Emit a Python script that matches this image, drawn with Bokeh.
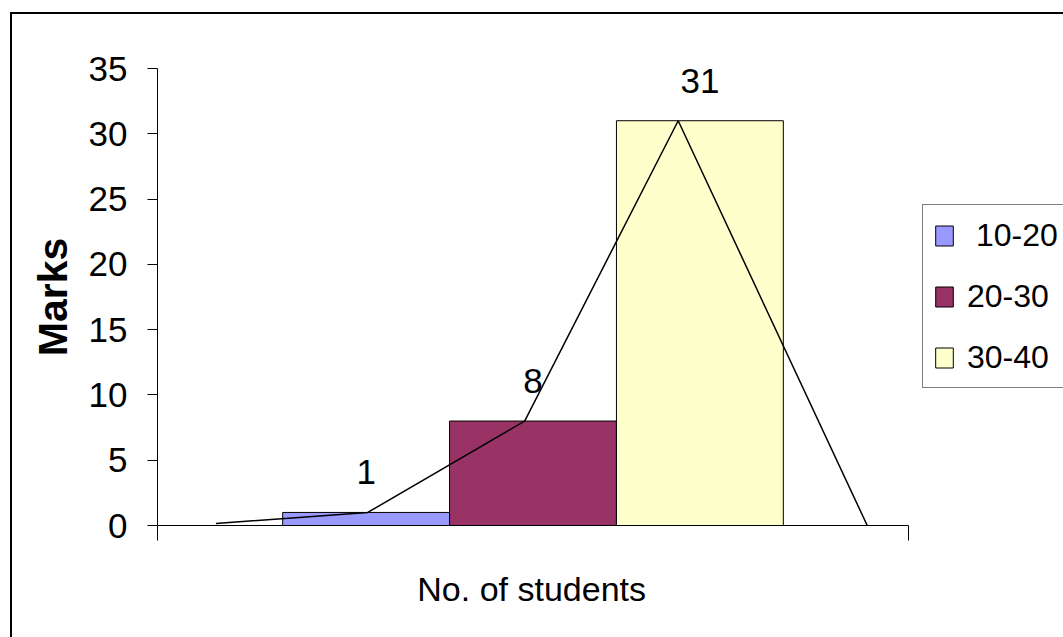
from bokeh.plotting import figure
from bokeh.models import (Range1d, FixedTicker, Legend, LegendItem, Title,
                          ColumnDataSource, CustomJSTickFormatter, InlineStyleSheet)
from bokeh.embed import file_html
from bokeh.resources import INLINE
from bokeh.core.properties import value

# ---- data ----
categories = ["10-20", "20-30", "30-40"]
students = [1, 8, 31]
bar_colors = ["#9999FF", "#993366", "#FFFFCC"]
poly_x = [0.10, 1.01, 1.95, 2.87, 4.01]
poly_y = [0.15, 1, 8, 31, -0.2]
y_ticks = [0, 5, 10, 15, 20, 25, 30, 35]
x_title = "No. of students"
y_title = "Marks"

FONT = "Liberation Sans"

# layout (pixels)
W, H = 1063, 637
LEFT, AXIS_RIGHT, TOP, BOTTOM = 157, 908, 68, 525
X0, X1 = -0.25, 4.25          # axis extent in data units
unit = (AXIS_RIGHT - LEFT) / (X1 - X0)
x_end = X0 + (W - LEFT) / unit  # frame extends to the window edge (room for legend)

p = figure(width=W, height=H, output_backend="svg", toolbar_location=None,
           x_range=Range1d(X0, x_end), y_range=Range1d(0, 35),
           min_border_left=LEFT, min_border_right=0, min_border_top=TOP,
           min_border_bottom=H - BOTTOM)
p.outline_line_color = None
p.xgrid.visible = False
p.ygrid.visible = False
p.background_fill_color = "white"
p.border_fill_color = "white"

# bars
renderers = []
for i, (c, v, col) in enumerate(zip(categories, students, bar_colors)):
    src = ColumnDataSource(dict(x=[i + 1], top=[v]))
    r = p.vbar(x="x", top="top", bottom=0, width=1.0, source=src,
               fill_color=col, line_color="black", line_width=1)
    renderers.append((c, r))

# frequency polygon
p.line(poly_x, poly_y, line_color="black", line_width=1.5)

# value labels
lab_src = ColumnDataSource(dict(x=[i + 1 for i in range(len(students))], y=students,
                                t=[str(v) for v in students]))
p.text(x="x", y="y", text="t", source=lab_src, y_offset=-40,
       text_align="center", text_baseline="middle",
       text_font=value(FONT), text_font_size="35px", text_color="black")

# y axis
ya = p.yaxis[0]
ya.ticker = FixedTicker(ticks=y_ticks)
ya.minor_tick_line_color = None
ya.major_tick_in = 0
ya.major_tick_out = 10
ya.major_label_standoff = 20
ya.major_label_text_font = FONT
ya.major_label_text_font_size = "35px"
ya.major_label_text_color = "black"
ya.axis_line_color = "black"
ya.major_tick_line_color = "black"
ya.axis_label = y_title
ya.axis_label_text_font = FONT
ya.axis_label_text_font_style = "bold"
ya.axis_label_text_font_size = "41px"
ya.axis_label_text_color = "black"
ya.axis_label_standoff = 10

# x axis (limited to the chart area by bounds)
xa = p.xaxis[0]
xa.bounds = (X0, X1)
xa.ticker = FixedTicker(ticks=[X0, X1])
xa.minor_tick_line_color = None
xa.major_tick_in = 0
xa.major_tick_out = 15
xa.major_label_text_font_size = "0px"
xa.formatter = CustomJSTickFormatter(code="return ''")
xa.axis_line_color = "black"
xa.major_tick_line_color = "black"

# x title, centred under the chart area (not the extended frame)
TITLE_PX = 34
title_w = 6.806 * TITLE_PX   # approximate rendered width of the title
chart_center = (LEFT + AXIS_RIGHT) / 2
p.add_layout(Title(text=x_title, align="left",
                   offset=chart_center - LEFT - title_w / 2,
                   text_font=FONT, text_font_style="normal",
                   text_font_size=f"{TITLE_PX}px",
                   text_color="black", standoff=54), "below")

# legend (inside the extended frame, to the right of the chart area)
items = []
for c, r in renderers:
    lbl = "\u00a0" + c if c == "10-20" else c
    items.append(LegendItem(label=lbl, renderers=[r]))
leg = Legend(items=items, location=(922 - LEFT, BOTTOM - 388), orientation="vertical")
leg.glyph_width = 22
leg.glyph_height = 25
leg.label_text_font = FONT
leg.label_text_font_size = "32px"
leg.label_text_color = "black"
leg.label_height = 40
leg.label_standoff = 12
leg.spacing = 21
leg.padding = 10
leg.margin = 0
leg.border_line_color = "black"
leg.border_line_width = 1
leg.background_fill_color = "white"
leg.background_fill_alpha = 1
p.add_layout(leg, "center")

# outer chart border (top and left sides; the others lie outside the window)
p.stylesheets = [InlineStyleSheet(css=(
    ":host { position: relative; }"
    ":host::after { content: ''; position: absolute; left: 10px; top: 12px;"
    " right: 0px; bottom: 0px; border-top: 2px solid black;"
    " border-left: 2px solid black; pointer-events: none; }"
))]

open("out.html", "w").write(file_html(p, INLINE))
